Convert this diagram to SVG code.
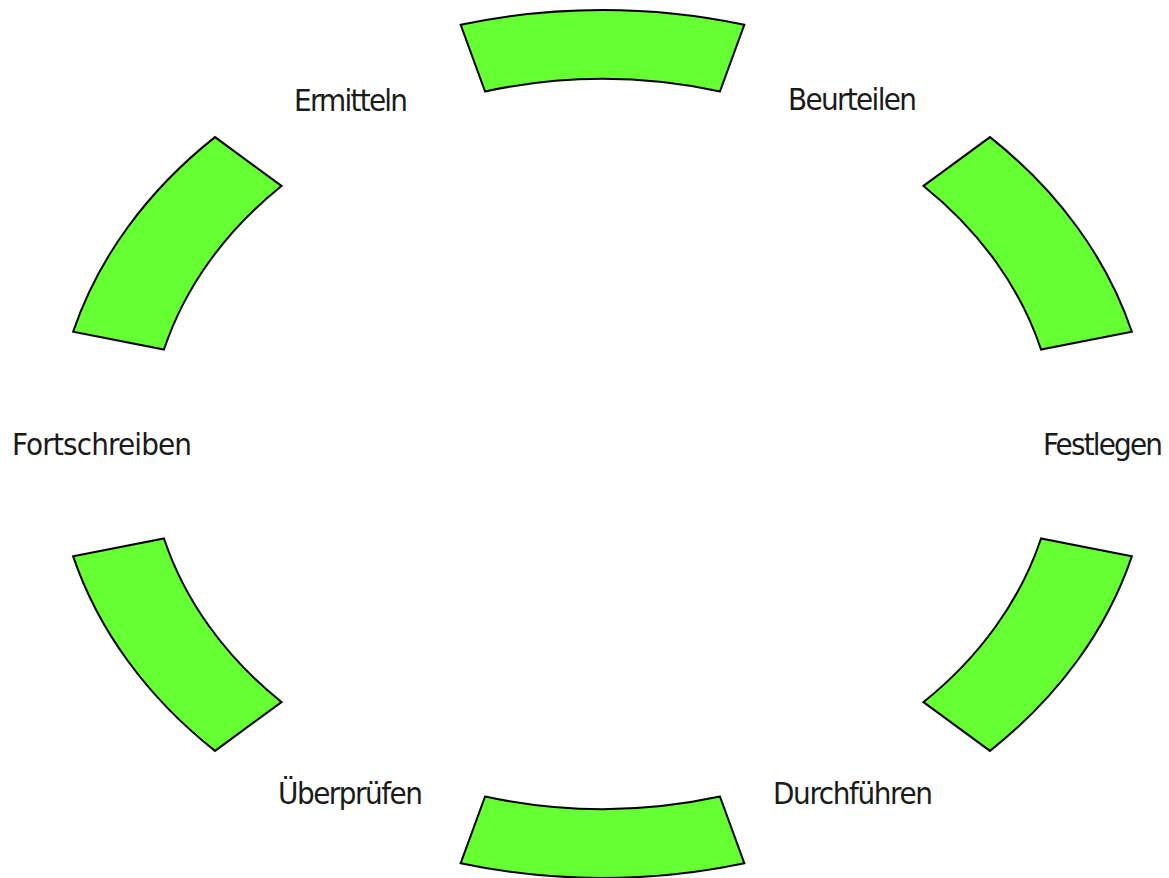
<svg xmlns="http://www.w3.org/2000/svg" width="1169" height="878" viewBox="0 0 1169 878">
  <style>
    .seg { fill: #66ff33; stroke: #000000; stroke-width: 2; stroke-linejoin: miter; }
    .lbl { font-family: "Liberation Sans Narrow", "DejaVu Sans Condensed", "Liberation Sans", sans-serif; font-size: 31px; fill: #1a1a1a; }
  </style>
  <rect x="0" y="0" width="1169" height="878" fill="#ffffff"/>
  <g id="segments">
    <g id="seg-top"><path class="seg" d="M 460.67,24.79 A 548 434 0 0 1 744.33,24.79 L 720.0,91.44 A 454 365 0 0 0 485.0,91.44 Z"/></g>
    <g id="seg-upper-right"><path class="seg" d="M 989.99,137.12 A 548 434 0 0 1 1131.83,331.67 L 1041.03,349.53 A 454 365 0 0 0 923.53,185.91 Z"/></g>
    <g id="seg-lower-right"><path class="seg" d="M 1131.83,556.33 A 548 434 0 0 1 989.99,750.88 L 923.53,702.09 A 454 365 0 0 0 1041.03,538.47 Z"/></g>
    <g id="seg-bottom"><path class="seg" d="M 744.33,863.21 A 548 434 0 0 1 460.67,863.21 L 485.0,796.56 A 454 365 0 0 0 720.0,796.56 Z"/></g>
    <g id="seg-lower-left"><path class="seg" d="M 215.01,750.88 A 548 434 0 0 1 73.17,556.33 L 163.97,538.47 A 454 365 0 0 0 281.47,702.09 Z"/></g>
    <g id="seg-upper-left"><path class="seg" d="M 73.17,331.67 A 548 434 0 0 1 215.01,137.12 L 281.47,185.91 A 454 365 0 0 0 163.97,349.53 Z"/></g>
  </g>
  <g id="labels">
    <g id="lbl-ermitteln"><text class="lbl" x="294" y="111" textLength="114" lengthAdjust="spacing">Ermitteln</text></g>
    <g id="lbl-beurteilen"><text class="lbl" x="788" y="110" textLength="129" lengthAdjust="spacing">Beurteilen</text></g>
    <g id="lbl-festlegen"><text class="lbl" x="1043" y="455" textLength="120" lengthAdjust="spacing">Festlegen</text></g>
    <g id="lbl-durchfuehren"><text class="lbl" x="773" y="804" textLength="160" lengthAdjust="spacing">Durchführen</text></g>
    <g id="lbl-ueberpruefen"><text class="lbl" x="278" y="804" textLength="145" lengthAdjust="spacing">Überprüfen</text></g>
    <g id="lbl-fortschreiben"><text class="lbl" x="12" y="455" textLength="180" lengthAdjust="spacing">Fortschreiben</text></g>
  </g>
</svg>
